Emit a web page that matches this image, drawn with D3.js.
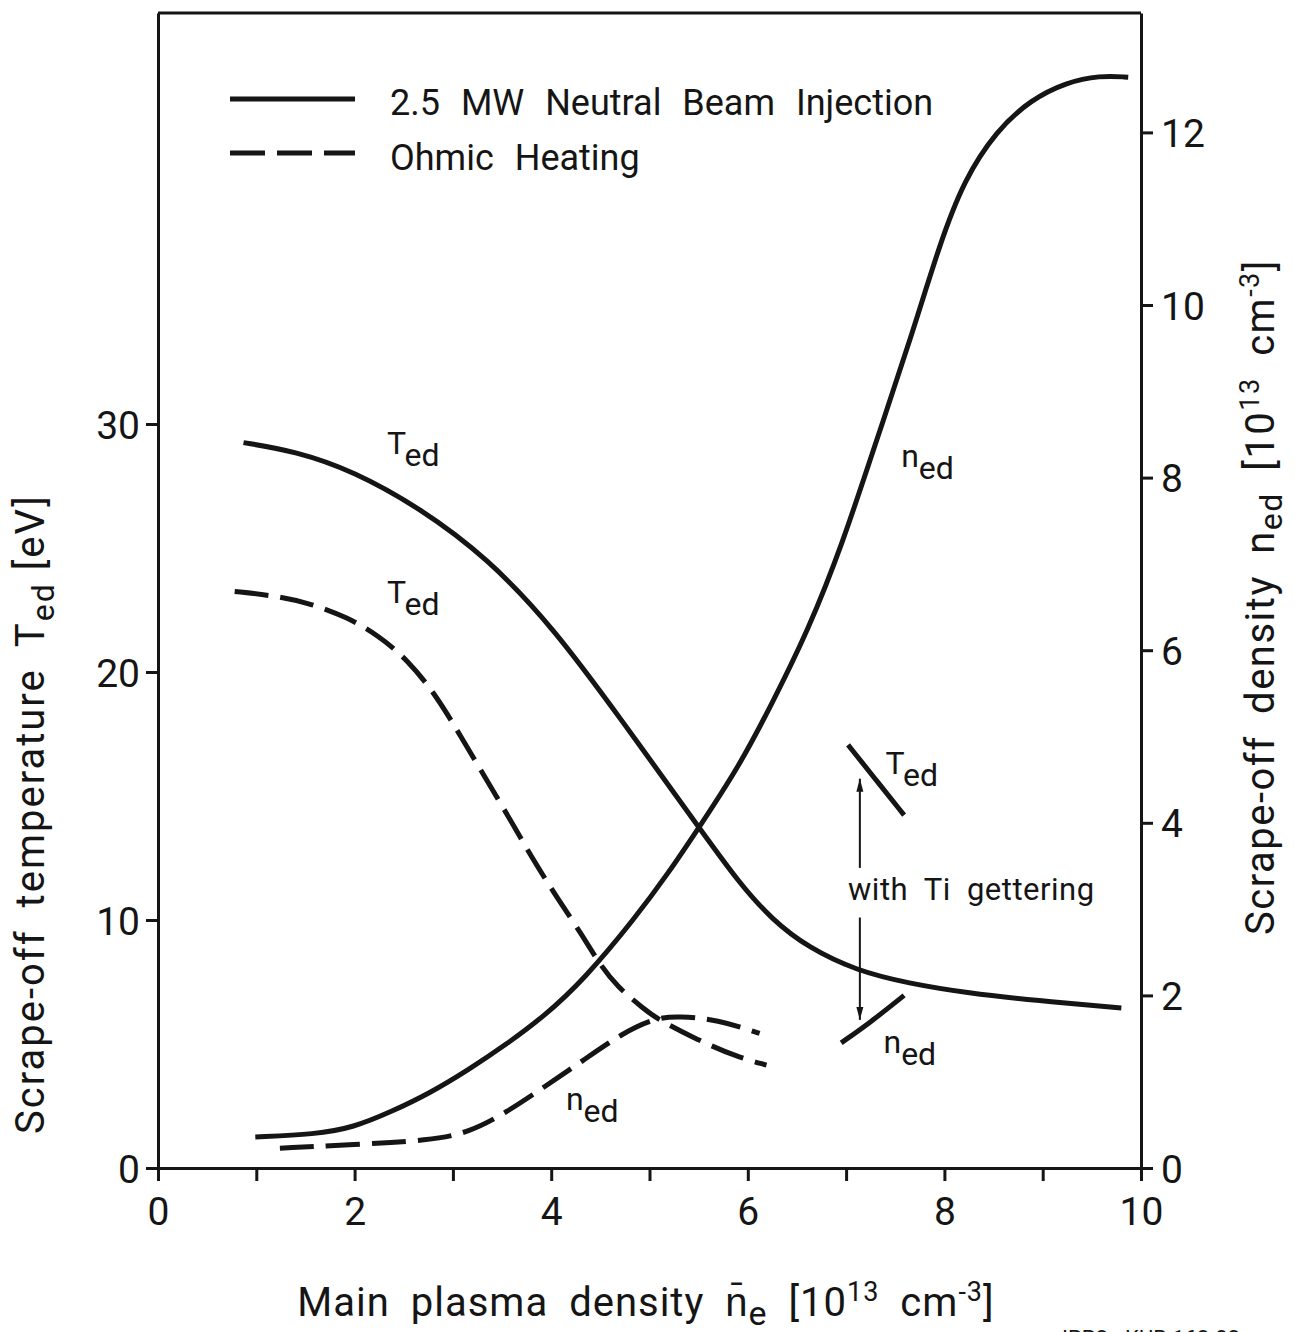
<!DOCTYPE html>
<meta charset="utf-8">
<script src="https://d3js.org/d3.v7.min.js"></script>
<style>
body { margin: 0; background: #fff; }
text { font-family: Roboto, 'Liberation Sans', sans-serif; fill: #151515; }
</style>
<body></body>
<script>

// DATA  (x: main plasma density, 10^13 cm^-3)
// scrape-off temperature [eV], 2.5 MW neutral beam injection
var nbiTemp = [[0.87,29.25],[1.40,28.9],[1.99,28.1],[2.67,26.6],[3.35,24.6],[4.02,21.8],[4.71,18.1],
    [5.49,13.8],[5.91,11.5],[6.25,10.0],[6.61,8.9],[7.11,7.95],[7.63,7.45],[8.24,7.05],
    [8.94,6.75],[9.80,6.45]];
// scrape-off temperature [eV], ohmic heating
var ohmTemp = [[0.78,23.25],[1.14,23.1],[1.53,22.8],[1.93,22.2],[2.23,21.5],[2.54,20.5],
    [2.84,19.0],[3.08,17.4],[3.35,15.6],[3.59,14.0],[3.82,12.4],[4.06,10.9],[4.33,9.3],
    [4.48,8.3],[4.67,7.3],[4.95,6.4],[5.06,6.05],[5.49,5.16],[5.89,4.48],[6.19,4.15]];
// scrape-off density [10^13 cm^-3], NBI
var nbiDens = [[0.99,0.36],[1.60,0.39],[1.99,0.47],[2.37,0.65],[2.77,0.87],[3.16,1.14],
    [3.54,1.43],[3.93,1.76],[4.33,2.18],[4.85,2.89],[5.20,3.43],[5.50,3.94],[5.91,4.65],
    [6.25,5.39],[6.61,6.22],[6.96,7.22],[7.30,8.40],[7.66,9.62],[7.95,10.70],[8.20,11.45],
    [8.53,12.02],[8.88,12.38],[9.24,12.58],[9.58,12.66],[9.87,12.64]];
// scrape-off density [10^13 cm^-3], ohmic
var ohmDens = [[1.24,0.23],[1.99,0.27],[2.77,0.32],[3.16,0.41],[3.54,0.64],[3.93,0.94],
    [4.33,1.25],[4.72,1.56],[5.06,1.74],[5.30,1.76],[5.69,1.72],[6.12,1.56]];
// with Ti gettering (NBI)
var tiTemp = [[7.02,17.06],[7.28,15.77],[7.59,14.23]];
var tiDens = [[6.95,1.45],[7.25,1.69],[7.59,2.00]];

var xTicks = [0,1,2,3,4,5,6,7,8,9,10];
var tempTicks = [0,10,20,30];
var densTicks = [0,2,4,6,8,10,12];

// curve labels: [x, value, axis, letter]
var curveLabels = [
    [2.33, 28.8, 'T', 'T'],
    [2.33, 22.8, 'T', 'T'],
    [7.56, 8.12, 'n', 'n'],
    [4.15, 0.67, 'n', 'n'],
    [7.40, 15.9, 'T', 'T'],
    [7.38, 1.33, 'n', 'n']
];
// arrows for Ti gettering: [x, from T, to T]
var tiArrows = [[7.14, 12.1, 15.7], [7.14, 10.1, 5.97]];
var tiNote = [7.02, 10.8];

// SETUP
var W = 1295, H = 1332;
var m = {l: 158, r: 1141, t: 13, b: 1168};
var ink = '#151515';

var svg = d3.select('body').append('svg')
    .attr('width', W)
    .attr('height', H);

var x = d3.scaleLinear().domain([0, 10]).range([m.l, m.r]);
var yT = d3.scaleLinear().domain([0, (m.b - m.t) / 24.8]).range([m.b, m.t]);
var yN = d3.scaleLinear().domain([0, (m.b - m.t) / 86.3]).range([m.b, m.t]);

// AXES
var xAxis = svg.append('g')
    .attr('transform', 'translate(0,' + m.b + ')')
    .call(d3.axisBottom(x).tickValues(xTicks).tickSize(13).tickSizeOuter(0)
        .tickFormat(function (d) { return d % 2 ? '' : d; }));
xAxis.selectAll('text').attr('y', 57).attr('dy', 0).style('font-size', '39px');

var lAxis = svg.append('g')
    .attr('transform', 'translate(' + m.l + ',0)')
    .call(d3.axisLeft(yT).tickValues(tempTicks).tickSize(12).tickSizeOuter(0));
lAxis.selectAll('text').attr('x', -18).attr('dy', '0.36em').style('font-size', '39px');

var rAxis = svg.append('g')
    .attr('transform', 'translate(' + m.r + ',0)')
    .call(d3.axisRight(yN).tickValues(densTicks).tickSize(12).tickSizeOuter(0));
rAxis.selectAll('text').attr('x', 20).attr('dy', '0.36em').style('font-size', '39px');

svg.selectAll('.domain').attr('stroke', ink).attr('stroke-width', 3);
svg.selectAll('.tick line').attr('stroke', ink).attr('stroke-width', 3);
svg.selectAll('.tick text').attr('fill', ink).style('font-family', 'Roboto');

// top frame
svg.append('line')
    .attr('x1', m.l).attr('x2', m.r)
    .attr('y1', m.t).attr('y2', m.t)
    .attr('stroke', ink).attr('stroke-width', 3);

// CURVES
var lineT = d3.line().curve(d3.curveBasis)
    .x(function (d) { return x(d[0]); })
    .y(function (d) { return yT(d[1]); });
var lineN = d3.line().curve(d3.curveBasis)
    .x(function (d) { return x(d[0]); })
    .y(function (d) { return yN(d[1]); });

function curve(data, gen, dashed) {
    svg.append('path')
        .datum(data)
        .attr('d', gen)
        .attr('fill', 'none')
        .attr('stroke', ink)
        .attr('stroke-width', 5)
        .attr('stroke-dasharray', dashed ? '34,12' : null);
}
curve(nbiTemp, lineT, false);
curve(ohmTemp, lineT, true);
curve(nbiDens, lineN, false);
curve(ohmDens, lineN, true);
curve(tiTemp, lineT, false);
curve(tiDens, lineN, false);

// LABELS
curveLabels.forEach(function (l) {
    var t = svg.append('text')
        .attr('x', x(l[0]))
        .attr('y', l[2] == 'T' ? yT(l[1]) : yN(l[1]))
        .style('font-size', '32px');
    t.append('tspan').text(l[3]);
    t.append('tspan').attr('dy', 12).text('ed');
});

// Ti gettering arrows
svg.append('defs').append('marker')
    .attr('id', 'head')
    .attr('viewBox', '0 0 10 10')
    .attr('refX', 10).attr('refY', 5)
    .attr('markerWidth', 6.5).attr('markerHeight', 6.5)
    .attr('markerUnits', 'strokeWidth')
    .attr('orient', 'auto')
    .append('path').attr('d', 'M0,2.3 L10,5 L0,7.7 z').attr('fill', ink);

tiArrows.forEach(function (a) {
    svg.append('line')
        .attr('x1', x(a[0])).attr('x2', x(a[0]))
        .attr('y1', yT(a[1])).attr('y2', yT(a[2]))
        .attr('stroke', ink).attr('stroke-width', 2)
        .attr('marker-end', 'url(#head)');
});
svg.append('text')
    .attr('x', x(tiNote[0]))
    .attr('y', yT(tiNote[1]))
    .style('font-size', '31px')
    .style('letter-spacing', '0.5px')
    .style('word-spacing', '8px')
    .text('with Ti gettering');

// LEGEND
svg.append('line')
    .attr('x1', 230).attr('x2', 355).attr('y1', 99).attr('y2', 99)
    .attr('stroke', ink).attr('stroke-width', 5);
svg.append('line')
    .attr('x1', 230).attr('x2', 355).attr('y1', 153).attr('y2', 153)
    .attr('stroke', ink).attr('stroke-width', 5)
    .attr('stroke-dasharray', '35,12');
svg.append('text')
    .attr('x', 390).attr('y', 115)
    .style('font-size', '36px').style('word-spacing', '12px')
    .text('2.5 MW Neutral Beam Injection');
svg.append('text')
    .attr('x', 390).attr('y', 170)
    .style('font-size', '36px').style('word-spacing', '12px')
    .text('Ohmic Heating');

// AXIS TITLES
var xt = svg.append('text')
    .attr('x', 646).attr('y', 1316)
    .attr('text-anchor', 'middle')
    .style('font-size', '40px').style('letter-spacing', '1px').style('word-spacing', '10px');
xt.append('tspan').text('Main plasma density n\u0304');
xt.append('tspan').attr('dy', 9).style('font-size', '34px').text('e');
xt.append('tspan').attr('dy', -9).text(' [10');
xt.append('tspan').attr('dy', -15).style('font-size', '27px').text('13');
xt.append('tspan').attr('dy', 15).text(' cm');
xt.append('tspan').attr('dy', -15).style('font-size', '27px').text('-3');
xt.append('tspan').attr('dy', 15).text(']');

var lt = svg.append('text')
    .attr('transform', 'translate(44,814) rotate(-90)')
    .attr('text-anchor', 'middle')
    .style('font-size', '40px').style('letter-spacing', '2px').style('word-spacing', '10px');
lt.append('tspan').text('Scrape-off temperature T');
lt.append('tspan').attr('dy', 10).style('font-size', '32px').text('ed');
lt.append('tspan').attr('dy', -10).style('word-spacing', '0px').text(' [eV]');

var rt = svg.append('text')
    .attr('transform', 'translate(1274,597) rotate(-90)')
    .attr('text-anchor', 'middle')
    .style('font-size', '40px').style('letter-spacing', '1.5px').style('word-spacing', '10px');
rt.append('tspan').text('Scrape-off density n');
rt.append('tspan').attr('dy', 8).style('font-size', '32px').text('ed');
rt.append('tspan').attr('dy', -8).text(' [10');
rt.append('tspan').attr('dy', -15).style('font-size', '27px').text('13');
rt.append('tspan').attr('dy', 15).text(' cm');
rt.append('tspan').attr('dy', -15).style('font-size', '27px').text('-3');
rt.append('tspan').attr('dy', 15).text(']');

// plate number, cut by the page edge
svg.append('text')
    .attr('x', 1062).attr('y', 1346)
    .style('font-size', '22px')
    .text('IPP3 - KUR 163-83');

</script>
